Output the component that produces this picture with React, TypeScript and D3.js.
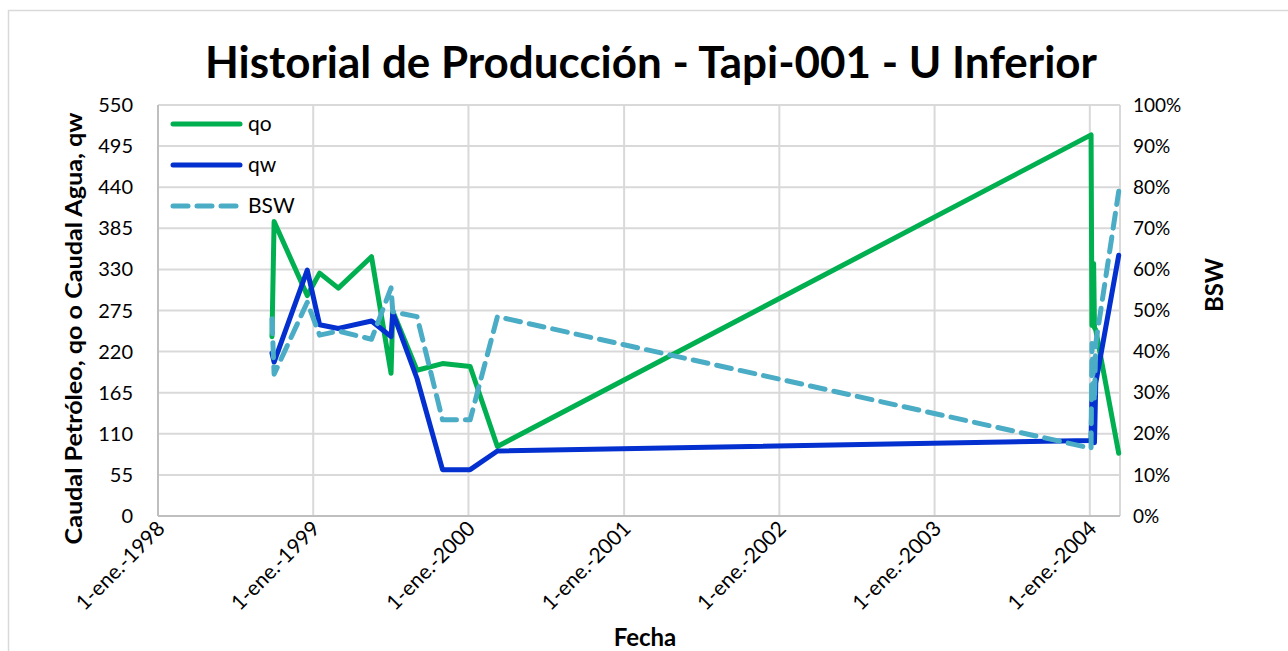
import React from "react";
import * as d3 from "d3";

// fechas de control (compartidas por las tres series)
const fechas = [
  "1998-09-26", "1998-10-01", "1998-12-18", "1999-01-16", "1999-03-01",
  "1999-05-18", "1999-07-03", "1999-07-07", "1999-09-02", "1999-11-01",
  "2000-01-05", "2000-03-09", "2004-01-04", "2004-01-06", "2004-01-10",
  "2004-01-12", "2004-01-15", "2004-03-09"
];
const qo = [240, 394, 295, 325, 305, 347, 191, 274, 195, 204, 200, 93, 510, 255, 338, 252, 249, 84];
const qw = [218, 206, 329, 256, 251, 261, 240, 272, 184, 62, 62, 87, 101, 164, 150, 98, 178, 349];
const bsw = [0.48, 0.345, 0.52, 0.44, 0.45, 0.43, 0.555, 0.497, 0.485, 0.234, 0.234, 0.485, 0.165, 0.42, 0.31, 0.28, 0.42, 0.79];

const yearTicks = ["1998", "1999", "2000", "2001", "2002", "2003", "2004"];
const leftTicks = [0, 55, 110, 165, 220, 275, 330, 385, 440, 495, 550];
const rightTicks = [0, 0.1, 0.2, 0.3, 0.4, 0.5, 0.6, 0.7, 0.8, 0.9, 1.0];

const series = [
  { name: "qo", values: qo, axis: "left", color: "#00B050", dash: null },
  { name: "qw", values: qw, axis: "left", color: "#0330CF", dash: null },
  { name: "BSW", values: bsw, axis: "right", color: "#4BACC6", dash: "15 9" }
];

const FONT = "Lato, 'Open Sans', sans-serif";
const GRID = "#d9d9d9";

const parse = d3.timeParse("%Y-%m-%d");

export default function App() {
  const margin = { top: 105, right: 168, bottom: 135, left: 158 };
  const width = 1288, height = 651;

  const x = d3.scaleTime()
    .domain([parse("1998-01-01")!, parse("2004-03-12")!])
    .range([margin.left, width - margin.right]);
  const yL = d3.scaleLinear().domain([0, 550]).range([height - margin.bottom, margin.top]);
  const yR = d3.scaleLinear().domain([0, 1]).range([height - margin.bottom, margin.top]);

  const dates = fechas.map(d => parse(d)!);
  const fmtPct = d3.format(".0%");

  const x0 = x.range()[0], x1 = x.range()[1];
  const yb = yL.range()[0], yt = yL.range()[1];

  return (
    <svg width={width} height={height}
      style={{ position: "absolute", left: 0, top: 0, background: "#fff" }}
      fontFamily={FONT}>
      <rect x={8.5} y={10.5} width={1300} height={700} fill="#fff" stroke={GRID} strokeWidth={1.5} />

      <text x={651} y={78} textAnchor="middle" fontSize={44} fontWeight="bold"
        textLength={892} lengthAdjust="spacingAndGlyphs">
        Historial de Producción - Tapi-001 - U Inferior
      </text>

      {/* rejilla */}
      {leftTicks.map(t => (
        <line key={"h" + t} x1={x0} x2={x1} y1={yL(t)} y2={yL(t)} stroke={GRID} strokeWidth={2} />
      ))}
      {yearTicks.map(yr => {
        const xp = x(parse(yr + "-01-01")!);
        return <line key={"v" + yr} x1={xp} x2={xp} y1={yt} y2={yb} stroke={GRID} strokeWidth={2} />;
      })}
      <line x1={x1} x2={x1} y1={yt} y2={yb} stroke={GRID} strokeWidth={2} />
      <line x1={x0} x2={x0} y1={yt} y2={yb} stroke="#bfbfbf" strokeWidth={2} />
      <line x1={x0} x2={x1} y1={yb} y2={yb} stroke="#bfbfbf" strokeWidth={2} />

      {/* ejes */}
      {leftTicks.map(t => (
        <text key={"l" + t} x={133} y={yL(t)} dy="0.35em" textAnchor="end" fontSize={20}>{t}</text>
      ))}
      {rightTicks.map(t => (
        <text key={"r" + t} x={1133} y={yR(t)} dy="0.35em" fontSize={19}>{fmtPct(t)}</text>
      ))}
      {yearTicks.map(yr => {
        const xp = x(parse(yr + "-01-01")!);
        return (
          <text key={"t" + yr} transform={`translate(${xp + 8},${yb + 14}) rotate(-45)`}
            textAnchor="end" fontSize={21}>
            {"1-ene.-" + yr}
          </text>
        );
      })}

      <text transform={`translate(82,${(yt + yb) / 2 + 18}) rotate(-90)`} textAnchor="middle"
        fontSize={22} fontWeight="bold" textLength={432} lengthAdjust="spacingAndGlyphs">
        Caudal Petróleo, qo o Caudal Agua, qw
      </text>
      <text transform={`translate(1223,285) rotate(-90)`} textAnchor="middle" fontSize={24} fontWeight="bold">
        BSW
      </text>
      <text x={645} y={646} textAnchor="middle" fontSize={24} fontWeight="bold">Fecha</text>

      {/* series */}
      {series.map(s => {
        const yS = s.axis === "left" ? yL : yR;
        const line = d3.line<number>()
          .x((_, i) => x(dates[i]))
          .y(v => yS(v));
        return (
          <path key={s.name} d={line(s.values) ?? ""} fill="none" stroke={s.color}
            strokeWidth={5} strokeLinejoin="round" strokeLinecap="round"
            strokeDasharray={s.dash ?? undefined} />
        );
      })}

      {/* leyenda */}
      {series.map((s, i) => {
        const ly = 124 + i * 41;
        return (
          <g key={"lg" + s.name}>
            <line x1={173} x2={240} y1={ly} y2={ly} stroke={s.color} strokeWidth={5}
              strokeLinecap="round" strokeDasharray={s.dash ?? undefined} />
            <text x={248} y={ly} dy="0.35em" fontSize={21}>{s.name}</text>
          </g>
        );
      })}
    </svg>
  );
}
